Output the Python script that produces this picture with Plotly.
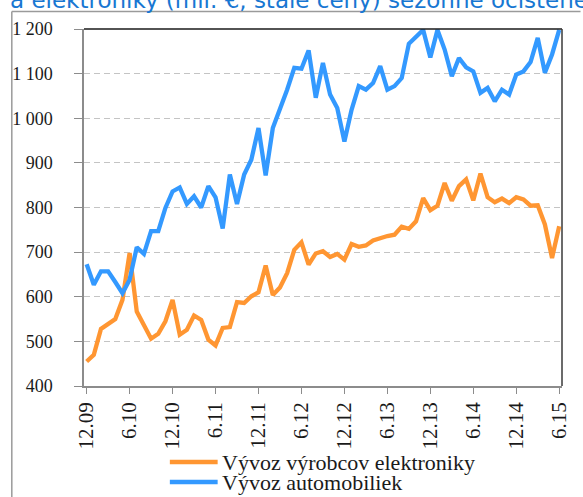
import plotly.graph_objects as go

# ---- data ----
months = []
y, m = 2009, 12
for _ in range(67):
    months.append(f"{m}.{str(y)[2:]}")
    m += 1
    if m > 12:
        m = 1
        y += 1

tick_labels = ["12.09", "6.10", "12.10", "6.11", "12.11", "6.12",
               "12.12", "6.13", "12.13", "6.14", "12.14", "6.15"]
y_tick_vals = [400, 500, 600, 700, 800, 900, 1000, 1100, 1200]
y_tick_text = ["400", "500", "600", "700", "800", "900", "1 000", "1 100", "1 200"]

electronics = [455, 470, 528, 538, 550, 593, 698, 567, 534, 506, 517, 545, 593, 515, 526, 558, 548,
               504, 491, 530, 532, 588, 586, 601, 610, 670, 604, 621, 653, 705, 722, 672, 697,
               702, 689, 696, 683, 718, 712, 715, 726, 732, 736, 739, 757, 752, 769, 821, 794,
               804, 855, 815, 848, 863, 816, 876, 823, 812, 820, 810, 823, 818, 804, 805, 762, 687, 758]
automobiles = [673, 627, 657, 657, 633, 608, 638, 711, 696, 747, 747, 799, 836, 845, 808, 825, 800,
               848, 823, 753, 874, 808, 874, 907, 978, 872, 978, 1019, 1064, 1113, 1111, 1152, 1046,
               1124, 1053, 1023, 948, 1019, 1072, 1064, 1079, 1117, 1064, 1072, 1090, 1167, 1182, 1198, 1136,
               1198, 1154, 1094, 1135, 1114, 1105, 1057, 1068, 1038, 1064, 1053, 1098, 1105, 1126, 1180, 1102, 1143, 1198]

series_names = ["Vývoz výrobcov elektroniky", "Vývoz automobiliek"]
colors = ["#FF9632", "#3399FF"]
title_text = "a elektroniky (mil. €, stále ceny) sezónne očistené"

SERIF = "Times New Roman, Liberation Serif, serif"

W, H = 583, 497
L, R, T, B = 79, 569, 29.4, 386.0


def px(x):
    return (x - L) / (R - L)


def py(y):
    return (B - y) / (B - T)


fig = go.Figure()
fig.add_trace(go.Scatter(x=months, y=electronics, mode="lines", name=series_names[0],
                         line=dict(color=colors[0], width=4.3), showlegend=False))
fig.add_trace(go.Scatter(x=months, y=automobiles, mode="lines", name=series_names[1],
                         line=dict(color=colors[1], width=4.3), showlegend=False))

axis_gray = "#8C8C8C"
fig.update_xaxes(
    type="category", range=[-0.37, 66.39],
    tickmode="array", tickvals=tick_labels, ticktext=tick_labels,
    tickangle=-90, ticks="outside", ticklen=6, tickcolor=axis_gray, tickwidth=1,
    showline=True, linecolor=axis_gray, linewidth=1.5,
    showgrid=False, zeroline=False,
    tickfont=dict(family=SERIF, size=21, color="#1a1a1a"),
)
fig.update_yaxes(
    range=[400, 1200], tickmode="array", tickvals=y_tick_vals, ticktext=y_tick_text,
    ticks="outside", ticklen=8, tickcolor=axis_gray, tickwidth=1,
    showline=True, linecolor=axis_gray, linewidth=1.5,
    showgrid=True, gridcolor="#C4C4C4", gridwidth=1, griddash="6px,4px",
    zeroline=False, ticklabelstandoff=18,
    tickfont=dict(family=SERIF, size=18, color="#1a1a1a"),
)

shapes = [
    dict(type="line", xref="paper", yref="paper", x0=0, x1=1, y0=1, y1=1,
         line=dict(color="#1a1a1a", width=1.5)),
    dict(type="line", xref="paper", yref="paper", x0=1, x1=1, y0=0, y1=1,
         line=dict(color="#3a3a3a", width=1.5)),
    dict(type="line", xref="paper", yref="paper", x0=px(5), x1=px(5), y0=py(12), y1=py(H + 5),
         line=dict(color="#9A9A9A", width=1.5)),
    dict(type="line", xref="paper", yref="paper", x0=px(5), x1=px(W + 5), y0=py(12), y1=py(12),
         line=dict(color="#9A9A9A", width=1.5)),
]
annotations = [
    dict(text=title_text, xref="paper", yref="paper", x=px(1), y=py(0.5),
         xanchor="left", yanchor="middle", showarrow=False,
         font=dict(family="DejaVu Sans", size=23, color="#1877D2")),
]
for k, (nm, c) in enumerate(zip(series_names, colors)):
    yy = 462 + 20 * k
    shapes.append(dict(type="line", xref="paper", yref="paper", x0=px(167), x1=px(216),
                       y0=py(yy), y1=py(yy), line=dict(color=c, width=4.5)))
    annotations.append(dict(text=nm, xref="paper", yref="paper", x=px(218), y=py(yy),
                            xanchor="left", yanchor="middle", showarrow=False,
                            font=dict(family=SERIF, size=22, color="#1a1a1a")))

fig.update_layout(
    width=W, height=H,
    margin=dict(l=L, r=W - R, t=T, b=H - B, pad=0),
    paper_bgcolor="white", plot_bgcolor="white",
    shapes=shapes, annotations=annotations, showlegend=False,
)

fig.write_html("out.html", config={"displayModeBar": False},
               post_script="document.body.style.margin='0';document.body.style.overflow='hidden';")
